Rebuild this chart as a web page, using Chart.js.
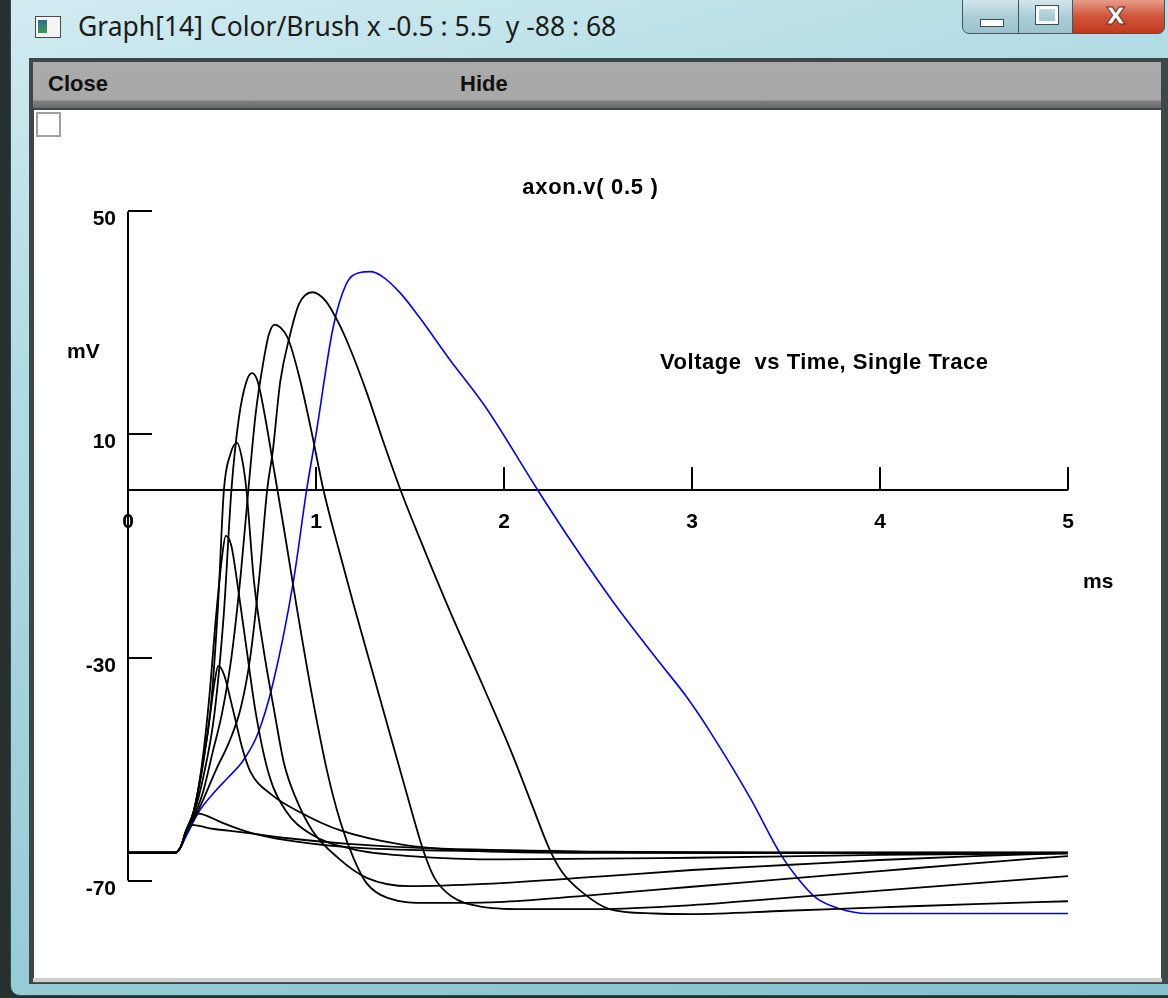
<!DOCTYPE html>
<html><head><meta charset="utf-8">
<script src="https://cdn.jsdelivr.net/npm/chart.js@4"></script>
<style>
html,body{margin:0;padding:0;}
body{width:1168px;height:998px;position:relative;overflow:hidden;background:#26302f;font-family:"Liberation Sans",Arial,sans-serif;}
#frame{position:absolute;left:10px;top:-12px;width:1180px;height:1008px;border-radius:10px;border:1px solid #2e4a52;box-sizing:border-box;
 background:linear-gradient(165deg,#d2ecf1 0%,#b4dde5 25%,#a2d2dc 55%,#94cad5 80%,#86c1cd 100%);}
#icon{position:absolute;left:35px;top:16px;width:24px;height:20px;border:1px solid #4a4a4a;background:#f4f4f4;}
#icon div{position:absolute;left:2px;top:3px;width:9px;height:13px;background:linear-gradient(#2e6f8e,#3f9a55);}
#title{position:absolute;left:78px;top:8px;font-family:"Noto Sans","Open Sans",sans-serif;font-size:26.5px;color:#1b1b1b;white-space:pre;}
.btn{position:absolute;top:-2px;height:36px;box-sizing:border-box;border:1px solid #3b5864;}
#bmin{left:962px;width:57px;border-radius:0 0 0 7px;background:linear-gradient(#d5e7ec,#a9ccd6 55%,#9cc3cd);}
#bmax{left:1018px;width:55px;background:linear-gradient(#d5e7ec,#a9ccd6 55%,#9cc3cd);}
#bcls{left:1072px;width:93px;border-radius:0 0 7px 0;background:linear-gradient(#e8a08f,#d2563c 50%,#c0391f);}
#bmin div{position:absolute;left:17px;top:20px;width:22px;height:6px;background:#fff;border:1px solid #3d4f57;}
#bmax div{position:absolute;left:17px;top:7px;width:16px;height:12px;border:3px solid #fff;outline:1px solid #3d4f57;}
#bcls span{position:absolute;left:33px;top:-3px;font:bold 30px "DejaVu Sans",sans-serif;color:#fff;-webkit-text-stroke:1px #6b2a1c;}
#inner{position:absolute;left:29px;top:58px;width:1139px;height:926px;background:#3e4649;}
#menubar{position:absolute;left:33px;top:62px;width:1128px;height:46px;background:linear-gradient(#aaaaaa 0,#a8a8a8 38px,#808080 39px,#6a6a6a 46px);}
.menu{position:absolute;top:9px;font:bold 22px "Liberation Sans",Arial,sans-serif;color:#111;}
#white{position:absolute;left:34px;top:110px;width:1127px;height:868px;background:#fff;overflow:hidden;}
#sq{position:absolute;left:2px;top:2px;width:21px;height:21px;border:2px solid #a0a0a0;background:#fff;z-index:2;}
#c{position:absolute;left:0;top:1px;}
#bottomline{position:absolute;left:33px;top:978px;width:1129px;height:4px;background:#cfcfcf;border-bottom:1px solid #555;}
</style></head>
<body>
<div id="frame"></div>
<div id="icon"><div></div></div>
<div id="title">Graph[14] Color/Brush x -0.5 : 5.5  y -88 : 68</div>
<div class="btn" id="bmin"><div></div></div>
<div class="btn" id="bmax"><div></div></div>
<div class="btn" id="bcls"><span>x</span></div>
<div id="inner"></div>
<div id="menubar"><span class="menu" style="left:15px">Close</span><span class="menu" style="left:427px">Hide</span></div>
<div id="white"><div id="sq"></div><canvas id="c" width="1128" height="870"></canvas></div>
<div id="bottomline"></div>
<script>
// ---- data (time ms, voltage mV) ----
const xTickValues = [0, 1, 2, 3, 4, 5];
const yTickValues = [-70, -30, 10, 50];
const xRange = [-0.5, 5.5];
const yRange = [-88, 68];

const subA = [[0,-65],[0.25,-65],[0.28,-64],[0.31,-61.5],[0.34,-60],[0.38,-60.2],[0.45,-60.7],[0.6,-61.3],[0.85,-62.4],[1.17,-63.4],[1.6,-64.2],[2.5,-64.8],[3.5,-65],[5,-65]];
const subB = [[0,-65],[0.25,-65],[0.28,-64],[0.31,-61],[0.35,-58.6],[0.38,-58],[0.42,-58.4],[0.5,-59.6],[0.65,-61.4],[0.85,-62.8],[1.1,-63.8],[1.5,-64.5],[2.2,-64.8],[3,-65],[5,-65]];
const spike1 = [[0,-65],[0.25,-65],[0.28,-64],[0.31,-61],[0.35,-57.5],[0.39,-51],[0.43,-42],[0.46,-34.5],[0.48,-31.5],[0.51,-33],[0.56,-39.6],[0.61,-46.5],[0.65,-50.4],[0.76,-54.5],[0.93,-58],[1.13,-61],[1.45,-63.5],[1.8,-64.6],[2.5,-65],[5,-65]];
const spike2 = [[0,-65],[0.25,-65],[0.28,-64],[0.31,-61],[0.35,-57.5],[0.39,-50],[0.43,-38],[0.47,-22],[0.5,-12],[0.52,-8.2],[0.55,-10],[0.58,-16.3],[0.63,-28.3],[0.68,-40],[0.75,-51],[0.84,-57.5],[0.97,-61.6],[1.2,-64.4],[1.5,-65.6],[2.0,-66.2],[3.0,-65.9],[4.0,-65.4],[5,-65.1]];
const spike3 = [[0,-65],[0.25,-65],[0.28,-64],[0.31,-61],[0.35,-57.5],[0.39,-50.5],[0.44,-39],[0.48,-20],[0.51,0],[0.545,6.5],[0.58,8.5],[0.61,5],[0.63,0],[0.67,-16.3],[0.72,-28.3],[0.78,-40],[0.83,-49],[0.89,-55],[0.98,-61],[1.12,-66],[1.27,-69.5],[1.5,-71],[1.9,-70.6],[2.5,-69.3],[3.0,-68.1],[3.5,-67.2],[4,-66.3],[4.5,-65.6],[5,-65.1]];
const spike4 = [[0,-65],[0.25,-65],[0.28,-64],[0.31,-61],[0.35,-58],[0.4,-51.5],[0.46,-40],[0.51,-22],[0.55,0],[0.59,13],[0.63,19.5],[0.66,21],[0.69,19.5],[0.73,13],[0.78,3],[0.83,-7],[0.9,-21.5],[0.98,-37],[1.06,-50.5],[1.13,-59.5],[1.2,-66],[1.27,-70.5],[1.38,-73.1],[1.6,-74],[2.0,-73.8],[2.5,-72.5],[3.0,-71.1],[3.5,-69.7],[4.0,-68.3],[4.5,-66.9],[5,-65.6]];
const spike5 = [[0,-65],[0.25,-65],[0.28,-64],[0.31,-61],[0.35,-58.5],[0.4,-54],[0.45,-47],[0.5,-40],[0.55,-30],[0.6,-15],[0.64,0],[0.68,14],[0.72,23],[0.75,28],[0.78,29.7],[0.81,29.2],[0.85,27.3],[0.91,20.5],[0.97,11.5],[1.04,0],[1.12,-10.5],[1.2,-20.5],[1.3,-32.5],[1.4,-44.5],[1.5,-56.5],[1.57,-64.5],[1.63,-69.5],[1.72,-72.8],[1.87,-74.6],[2.1,-75.1],[2.5,-75.1],[3.0,-74.4],[3.5,-73.1],[4.0,-71.8],[4.5,-70.5],[5,-69.2]];
const spike6 = [[0,-65],[0.25,-65],[0.28,-64],[0.31,-61],[0.35,-59],[0.4,-55.5],[0.47,-50],[0.54,-45],[0.6,-39],[0.65,-30],[0.7,-15],[0.74,0],[0.77,7],[0.81,19.5],[0.86,27.6],[0.91,33.4],[0.98,35.5],[1.05,34],[1.12,30],[1.18,25.5],[1.27,17.5],[1.36,8.5],[1.45,0],[1.55,-8.5],[1.71,-21.5],[1.9,-36],[2.04,-47],[2.15,-56.5],[2.24,-64.2],[2.31,-68.5],[2.42,-72.2],[2.56,-75.1],[2.8,-75.9],[3.0,-76],[3.5,-75.4],[4.0,-74.8],[4.5,-74.2],[5,-73.7]];
const blueTrace = [[0,-65],[0.25,-65],[0.28,-64],[0.31,-62],[0.38,-57.5],[0.45,-54.5],[0.53,-51.6],[0.61,-48.6],[0.69,-43.7],[0.77,-34.8],[0.88,-16.3],[0.95,0],[1.0,10],[1.09,29],[1.16,36.9],[1.23,39],[1.29,39.2],[1.35,38.4],[1.45,35.3],[1.55,31],[1.71,23.5],[1.9,15],[2.18,0],[2.35,-8.8],[2.58,-20],[2.83,-31],[2.97,-37],[3.1,-43.5],[3.31,-55.2],[3.47,-65.2],[3.56,-69.5],[3.66,-73.1],[3.79,-75.1],[3.93,-75.9],[5,-75.9]];

const blackTraces = [subA, subB, spike1, spike2, spike3, spike4, spike5, spike6];

const titleText = 'axon.v( 0.5 )';
const noteText = 'Voltage  vs Time, Single Trace';
const yUnit = 'mV';
const xUnit = 'ms';

function toXY(arr){ return arr.map(p => ({x:p[0], y:p[1]})); }

const datasets = blackTraces.map(tr => ({
  data: toXY(tr), showLine: true, borderColor: '#000', borderWidth: 1.8,
  pointRadius: 0, cubicInterpolationMode: 'monotone', fill: false
}));
datasets.push({ data: toXY(blueTrace), showLine: true, borderColor: '#0000ff', borderWidth: 1.6,
  pointRadius: 0, cubicInterpolationMode: 'monotone', fill: false });

const neuronAxes = {
  id: 'neuronAxes',
  beforeDatasetsDraw(chart){
    const {ctx, scales:{x, y}} = chart;
    ctx.save();
    ctx.strokeStyle = '#000'; ctx.lineWidth = 2; ctx.lineCap = 'butt';
    const x0 = x.getPixelForValue(0);
    const y0 = Math.round(y.getPixelForValue(0));
    ctx.beginPath();
    ctx.moveTo(x0, y.getPixelForValue(yTickValues[yTickValues.length-1]));
    ctx.lineTo(x0, y.getPixelForValue(yTickValues[0]));
    yTickValues.forEach(v => { const py = Math.round(y.getPixelForValue(v)); ctx.moveTo(x0, py); ctx.lineTo(x0 + 24, py); });
    ctx.moveTo(x0, y0); ctx.lineTo(x.getPixelForValue(xTickValues[xTickValues.length-1]), y0);
    xTickValues.slice(1).forEach(t => { const px = Math.round(x.getPixelForValue(t)); ctx.moveTo(px, y0); ctx.lineTo(px, y0 - 23); });
    ctx.stroke();
    ctx.fillStyle = '#000';
    ctx.font = 'bold 21px "Liberation Sans", Arial, sans-serif';
    ctx.textAlign = 'right'; ctx.textBaseline = 'alphabetic';
    yTickValues.forEach(v => { ctx.fillText(String(v), x0 - 12, y.getPixelForValue(v) + 14); });
    ctx.textAlign = 'center';
    xTickValues.forEach(t => { ctx.fillText(String(t), x.getPixelForValue(t), y0 + 38); });
    ctx.textAlign = 'left';
    ctx.fillText(yUnit, x0 - 61, y.getPixelForValue(25) + 7);
    ctx.fillText(xUnit, x.getPixelForValue(5.08), y0 + 98);
    ctx.font = 'bold 22px "Liberation Sans", Arial, sans-serif';
    ctx.textAlign = 'center';
    ctx.letterSpacing = '0.7px';
    ctx.fillText(titleText, x.getPixelForValue(2.46), y.getPixelForValue(53.2));
    ctx.textAlign = 'left';
    ctx.letterSpacing = '0.5px';
    ctx.fillText(noteText, x.getPixelForValue(2.83), y.getPixelForValue(21.7));
    ctx.restore();
  }
};

new Chart(document.getElementById('c'), {
  type: 'scatter',
  data: { datasets },
  options: {
    responsive: false, animation: false, devicePixelRatio: 1,
    layout: { padding: 0 },
    plugins: { legend: { display: false }, tooltip: { enabled: false }, title: { display: false } },
    scales: {
      x: { type: 'linear', min: xRange[0], max: xRange[1], display: false },
      y: { type: 'linear', min: yRange[0], max: yRange[1], display: false }
    },
    elements: { line: { borderJoinStyle: 'round' } }
  },
  plugins: [neuronAxes]
});
</script>
</body></html>
